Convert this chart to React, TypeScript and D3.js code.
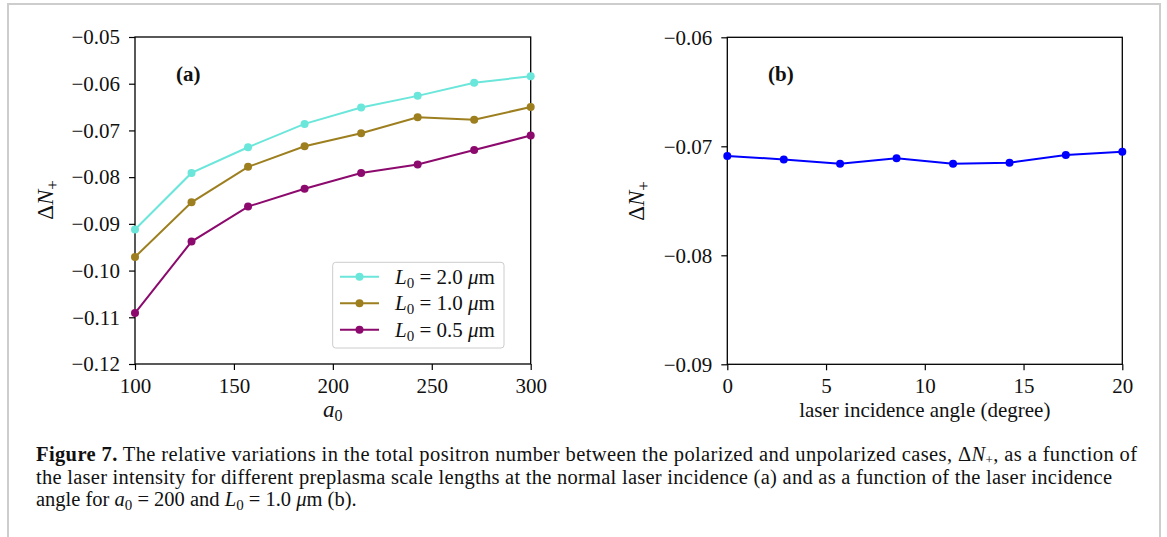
import React, { useEffect, useRef } from 'react';
import * as d3 from 'd3';

// laser amplitude a0 (panel a) and incidence angle in degrees (panel b)
const A0 = [100, 128.57, 157.14, 185.71, 214.29, 242.86, 271.43, 300];
const ANGLES = [0, 2.86, 5.71, 8.57, 11.43, 14.29, 17.14, 20];

// ΔN+ for each preplasma scale length
const DN_L20 = [-0.0912, -0.0791, -0.0736, -0.0686, -0.0651, -0.0626, -0.0598, -0.0584];
const DN_L10 = [-0.0971, -0.0854, -0.0778, -0.0734, -0.0706, -0.0672, -0.0677, -0.0650];
const DN_L05 = [-0.1091, -0.0938, -0.0863, -0.0825, -0.0791, -0.0773, -0.0742, -0.0711];
const DN_ANGLE = [-0.0709, -0.0712, -0.0716, -0.0711, -0.0716, -0.0715, -0.0708, -0.0705];

const L0_LABELS = ['2.0', '1.0', '0.5'];
const SERIES_COLORS = ['#6be6da', '#9d7f1f', '#8c0a6d'];
const ANGLE_COLOR = '#0000ff';

const A_XTICKS = [100, 150, 200, 250, 300];
const A_YTICKS = [-0.12, -0.11, -0.10, -0.09, -0.08, -0.07, -0.06, -0.05];
const B_XTICKS = [0, 5, 10, 15, 20];
const B_YTICKS = [-0.09, -0.08, -0.07, -0.06];

const FONT = '"Liberation Serif", "DejaVu Serif", serif';

export default function App() {
  const ref = useRef<SVGSVGElement>(null);

  useEffect(() => {
    const svg = d3.select(ref.current);
    svg.selectAll('*').remove();

    // page frame
    svg.append('path').attr('d', 'M8,540 V4 H1160 V540').attr('fill', 'none')
      .attr('stroke', '#cdcdcd').attr('stroke-width', 2);

    const drawPanel = (box, xDom, yDom, xTicks, yTicks, xFmt) => {
      const x = d3.scaleLinear().domain(xDom).range([box.left, box.right]);
      const y = d3.scaleLinear().domain(yDom).range([box.bottom, box.top]);
      const g = svg.append('g');
      const xa = g.append('g').attr('transform', `translate(0,${box.bottom})`)
        .call(d3.axisBottom(x).tickValues(xTicks).tickFormat(xFmt).tickSize(6).tickSizeOuter(0).tickPadding(8));
      const ya = g.append('g').attr('transform', `translate(${box.left},0)`)
        .call(d3.axisLeft(y).tickValues(yTicks).tickFormat(d3.format('.2f')).tickSize(6).tickSizeOuter(0).tickPadding(9));
      [xa, ya].forEach(a => {
        a.selectAll('.domain').remove();
        a.selectAll('line').attr('stroke', '#000').attr('stroke-width', 1.2);
        a.selectAll('text').attr('font-family', FONT).attr('font-size', 21).attr('fill', '#111');
      });
      g.append('rect').attr('x', box.left).attr('y', box.top)
        .attr('width', box.right - box.left).attr('height', box.bottom - box.top)
        .attr('fill', 'none').attr('stroke', '#000').attr('stroke-width', 1.3);
      return {x, y, g};
    };

    const plotLine = (p, xs, ys, color) => {
      const pts = xs.map((v, i) => [v, ys[i]]);
      const line = d3.line().x(d => p.x(d[0])).y(d => p.y(d[1]));
      p.g.append('path').datum(pts).attr('d', line).attr('fill', 'none')
        .attr('stroke', color).attr('stroke-width', 2);
      p.g.selectAll(null).data(pts).enter().append('circle')
        .attr('cx', d => p.x(d[0])).attr('cy', d => p.y(d[1])).attr('r', 4).attr('fill', color);
    };

    const yLabel = (cx, cy) => {
      const t = svg.append('text').attr('transform', `translate(${cx},${cy}) rotate(-90)`)
        .attr('text-anchor', 'middle').attr('font-family', FONT).attr('font-size', 23).attr('fill', '#111');
      t.append('tspan').text('Δ');
      t.append('tspan').attr('font-style', 'italic').text('N');
      t.append('tspan').attr('font-size', 17).attr('dy', 5).text('+');
    };

    // Panel (a)
    const boxA = {left: 135, right: 530.7, top: 37, bottom: 364};
    const pa = drawPanel(boxA, [100, 300], [-0.12, -0.05], A_XTICKS, A_YTICKS, d3.format('d'));
    [DN_L20, DN_L10, DN_L05].forEach((s, i) => plotLine(pa, A0, s, SERIES_COLORS[i]));
    svg.append('text').attr('x', 176).attr('y', 81).attr('font-family', FONT).attr('font-size', 21)
      .attr('font-weight', 'bold').attr('fill', '#111').text('(a)');
    yLabel(53, 200);
    const xlA = svg.append('text').attr('x', (boxA.left + boxA.right) / 2).attr('y', 417)
      .attr('text-anchor', 'middle').attr('font-family', FONT).attr('font-size', 23).attr('fill', '#111');
    xlA.append('tspan').attr('font-style', 'italic').text('a');
    xlA.append('tspan').attr('font-size', 16).attr('dy', 4).text('0');

    // legend
    const leg = svg.append('g');
    leg.append('rect').attr('x', 332.7).attr('y', 262.3).attr('width', 171.3).attr('height', 85.7)
      .attr('rx', 3).attr('fill', '#fff').attr('fill-opacity', 0.8).attr('stroke', '#cccccc').attr('stroke-width', 1);
    L0_LABELS.forEach((lab, i) => {
      const cy = 276.7 + i * 26.5;
      leg.append('line').attr('x1', 340).attr('x2', 379).attr('y1', cy).attr('y2', cy)
        .attr('stroke', SERIES_COLORS[i]).attr('stroke-width', 2);
      leg.append('circle').attr('cx', 359.5).attr('cy', cy).attr('r', 4).attr('fill', SERIES_COLORS[i]);
      const t = leg.append('text').attr('x', 395).attr('y', cy + 7).attr('font-family', FONT)
        .attr('font-size', 21).attr('fill', '#111');
      t.append('tspan').attr('font-style', 'italic').text('L');
      t.append('tspan').attr('font-size', 15).attr('dy', 4).text('0');
      t.append('tspan').attr('dy', -4).text(` = ${lab} `);
      t.append('tspan').attr('font-style', 'italic').text('μ');
      t.append('tspan').text('m');
    });

    // Panel (b)
    const boxB = {left: 727.3, right: 1122.3, top: 37.3, bottom: 364.3};
    const pb = drawPanel(boxB, [0, 20], [-0.09, -0.06], B_XTICKS, B_YTICKS, d3.format('d'));
    plotLine(pb, ANGLES, DN_ANGLE, ANGLE_COLOR);
    svg.append('text').attr('x', 768).attr('y', 81).attr('font-family', FONT).attr('font-size', 21)
      .attr('font-weight', 'bold').attr('fill', '#111').text('(b)');
    yLabel(644, 201);
    svg.append('text').attr('x', (boxB.left + boxB.right) / 2).attr('y', 417)
      .attr('text-anchor', 'middle').attr('font-family', FONT).attr('font-size', 21).attr('fill', '#111')
      .text('laser incidence angle (degree)');

    // caption
    const cap = svg.append('g').attr('font-family', FONT).attr('font-size', 20.5).attr('fill', '#111');
    const l1 = cap.append('text').attr('x', 36).attr('y', 461).attr('textLength', 1101).attr('lengthAdjust', 'spacing');
    l1.append('tspan').attr('font-weight', 'bold').text('Figure 7.');
    l1.append('tspan').text(' The relative variations in the total positron number between the polarized and unpolarized cases, Δ');
    l1.append('tspan').attr('font-style', 'italic').text('N');
    l1.append('tspan').attr('font-size', 13).attr('dy', 3).text('+');
    l1.append('tspan').attr('dy', -3).text(', as a function of');
    cap.append('text').attr('x', 36).attr('y', 484).attr('textLength', 1076).attr('lengthAdjust', 'spacing')
      .text('the laser intensity for different preplasma scale lengths at the normal laser incidence (a) and as a function of the laser incidence');
    const l3 = cap.append('text').attr('x', 36).attr('y', 506);
    l3.append('tspan').text('angle for ');
    l3.append('tspan').attr('font-style', 'italic').text('a');
    l3.append('tspan').attr('font-size', 15).attr('dy', 4).text('0');
    l3.append('tspan').attr('dy', -4).text(' = 200 and ');
    l3.append('tspan').attr('font-style', 'italic').text('L');
    l3.append('tspan').attr('font-size', 15).attr('dy', 4).text('0');
    l3.append('tspan').attr('dy', -4).text(' = 1.0 ');
    l3.append('tspan').attr('font-style', 'italic').text('μ');
    l3.append('tspan').text('m (b).');
  }, []);

  return (
    <svg ref={ref} width={1167} height={537}
      style={{position: 'absolute', left: 0, top: 0, background: '#fff'}} />
  );
}
